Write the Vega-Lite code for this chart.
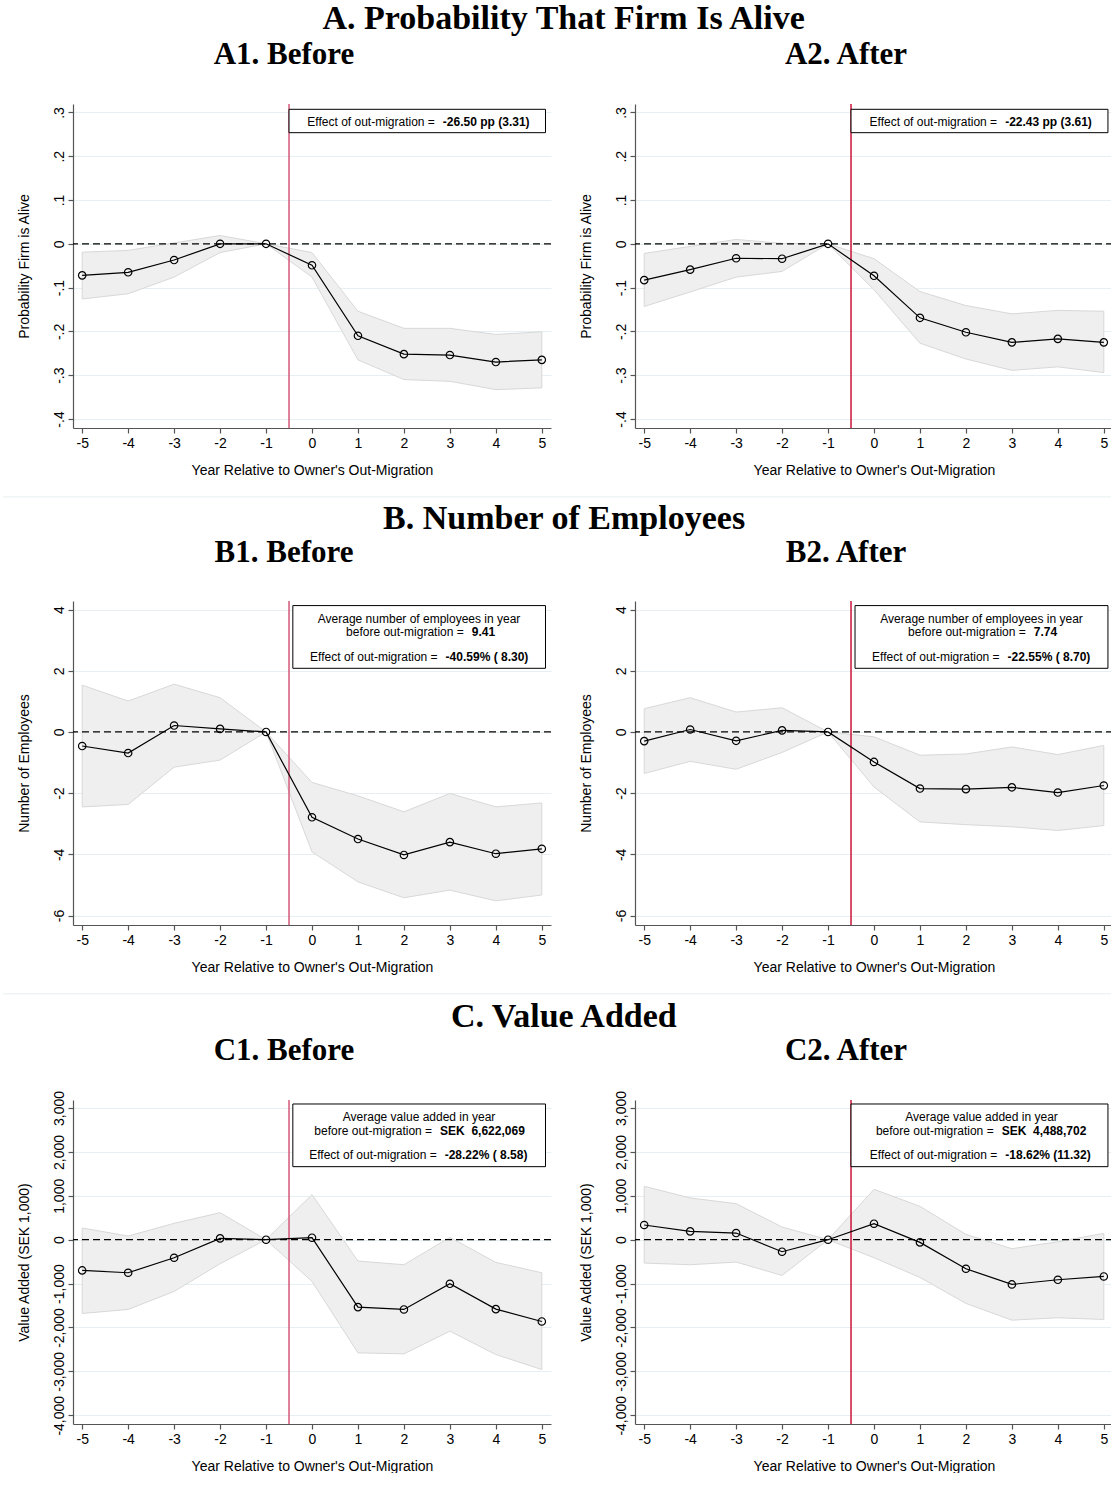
{
  "$schema": "https://vega.github.io/schema/vega-lite/v6.json",
  "background": "white",
  "padding": {"left": 2, "top": 2, "right": 0, "bottom": 0},
  "datasets": {
    "series": [
      {"p":"A1","t":-5,"b":-0.072,"lo":-0.126,"hi":-0.019},
      {"p":"A1","t":-4,"b":-0.065,"lo":-0.114,"hi":-0.015},
      {"p":"A1","t":-3,"b":-0.037,"lo":-0.076,"hi":0.002},
      {"p":"A1","t":-2,"b":0.0,"lo":-0.020,"hi":0.019},
      {"p":"A1","t":-1,"b":0,"lo":0,"hi":0},
      {"p":"A1","t":0,"b":-0.049,"lo":-0.076,"hi":-0.020},
      {"p":"A1","t":1,"b":-0.210,"lo":-0.265,"hi":-0.154},
      {"p":"A1","t":2,"b":-0.252,"lo":-0.310,"hi":-0.193},
      {"p":"A1","t":3,"b":-0.254,"lo":-0.314,"hi":-0.193},
      {"p":"A1","t":4,"b":-0.270,"lo":-0.333,"hi":-0.207},
      {"p":"A1","t":5,"b":-0.265,"lo":-0.329,"hi":-0.201},
      {"p":"A2","t":-5,"b":-0.083,"lo":-0.143,"hi":-0.022},
      {"p":"A2","t":-4,"b":-0.059,"lo":-0.110,"hi":-0.006},
      {"p":"A2","t":-3,"b":-0.033,"lo":-0.076,"hi":0.010},
      {"p":"A2","t":-2,"b":-0.034,"lo":-0.063,"hi":0.001},
      {"p":"A2","t":-1,"b":0,"lo":0,"hi":0},
      {"p":"A2","t":0,"b":-0.073,"lo":-0.105,"hi":-0.034},
      {"p":"A2","t":1,"b":-0.169,"lo":-0.227,"hi":-0.109},
      {"p":"A2","t":2,"b":-0.202,"lo":-0.263,"hi":-0.141},
      {"p":"A2","t":3,"b":-0.225,"lo":-0.289,"hi":-0.160},
      {"p":"A2","t":4,"b":-0.217,"lo":-0.281,"hi":-0.152},
      {"p":"A2","t":5,"b":-0.225,"lo":-0.294,"hi":-0.154},
      {"p":"B1","t":-5,"b":-0.46,"lo":-2.45,"hi":1.53},
      {"p":"B1","t":-4,"b":-0.69,"lo":-2.37,"hi":1.01},
      {"p":"B1","t":-3,"b":0.21,"lo":-1.15,"hi":1.56},
      {"p":"B1","t":-2,"b":0.10,"lo":-0.92,"hi":1.12},
      {"p":"B1","t":-1,"b":0,"lo":0,"hi":0},
      {"p":"B1","t":0,"b":-2.79,"lo":-3.92,"hi":-1.65},
      {"p":"B1","t":1,"b":-3.50,"lo":-4.90,"hi":-2.09},
      {"p":"B1","t":2,"b":-4.02,"lo":-5.42,"hi":-2.61},
      {"p":"B1","t":3,"b":-3.60,"lo":-5.17,"hi":-2.01},
      {"p":"B1","t":4,"b":-3.98,"lo":-5.52,"hi":-2.45},
      {"p":"B1","t":5,"b":-3.82,"lo":-5.33,"hi":-2.32},
      {"p":"B2","t":-5,"b":-0.30,"lo":-1.36,"hi":0.76},
      {"p":"B2","t":-4,"b":0.08,"lo":-0.96,"hi":1.12},
      {"p":"B2","t":-3,"b":-0.29,"lo":-1.22,"hi":0.65},
      {"p":"B2","t":-2,"b":0.05,"lo":-0.67,"hi":0.79},
      {"p":"B2","t":-1,"b":0,"lo":0,"hi":0},
      {"p":"B2","t":0,"b":-0.98,"lo":-1.80,"hi":-0.16},
      {"p":"B2","t":1,"b":-1.85,"lo":-2.94,"hi":-0.76},
      {"p":"B2","t":2,"b":-1.87,"lo":-3.03,"hi":-0.72},
      {"p":"B2","t":3,"b":-1.81,"lo":-3.10,"hi":-0.49},
      {"p":"B2","t":4,"b":-1.98,"lo":-3.22,"hi":-0.74},
      {"p":"B2","t":5,"b":-1.75,"lo":-3.06,"hi":-0.44},
      {"p":"C1","t":-5,"b":-700,"lo":-1681,"hi":266},
      {"p":"C1","t":-4,"b":-753,"lo":-1589,"hi":84},
      {"p":"C1","t":-3,"b":-411,"lo":-1179,"hi":373},
      {"p":"C1","t":-2,"b":30,"lo":-548,"hi":616},
      {"p":"C1","t":-1,"b":0,"lo":0,"hi":0},
      {"p":"C1","t":0,"b":46,"lo":-951,"hi":1027},
      {"p":"C1","t":1,"b":-1536,"lo":-2578,"hi":-487},
      {"p":"C1","t":2,"b":-1589,"lo":-2601,"hi":-570},
      {"p":"C1","t":3,"b":-1004,"lo":-2084,"hi":53},
      {"p":"C1","t":4,"b":-1582,"lo":-2616,"hi":-517},
      {"p":"C1","t":5,"b":-1863,"lo":-2958,"hi":-753},
      {"p":"C2","t":-5,"b":335,"lo":-532,"hi":1217},
      {"p":"C2","t":-4,"b":190,"lo":-570,"hi":951},
      {"p":"C2","t":-3,"b":152,"lo":-510,"hi":821},
      {"p":"C2","t":-2,"b":-274,"lo":-814,"hi":289},
      {"p":"C2","t":-1,"b":0,"lo":0,"hi":0},
      {"p":"C2","t":0,"b":365,"lo":-411,"hi":1148},
      {"p":"C2","t":1,"b":-61,"lo":-859,"hi":760},
      {"p":"C2","t":2,"b":-662,"lo":-1452,"hi":122},
      {"p":"C2","t":3,"b":-1019,"lo":-1833,"hi":-205},
      {"p":"C2","t":4,"b":-913,"lo":-1779,"hi":-46},
      {"p":"C2","t":5,"b":-837,"lo":-1817,"hi":144}
    ]
  },
  "bounds": "full",
  "spacing": 4,
  "vconcat": [
    {
      "title": {"text": "A. Probability That Firm Is Alive", "frame": "bounds", "anchor": "middle", "dx": 5.5, "offset": 3, "fontSize": 34},
      "bounds": "flush",
      "spacing": 84,
      "hconcat": [
        {
          "width": 478, "height": 324,
          "title": {"text": "A1. Before", "frame": "group", "anchor": "middle", "dx": -28, "offset": 32},
          "layer": [
            {"data": {"values": [{}]}, "mark": {"type": "rule", "color": "#e6eef0", "strokeWidth": 1}, "encoding": {"x": {"datum": -6.72, "type": "quantitative"}, "x2": {"datum": 17.39}, "y": {"datum": -0.578, "type": "quantitative"}}},
            {"data": {"name": "series"}, "transform": [{"filter": "datum.p == 'A1'"}], "mark": {"type": "area", "fill": "#efefef", "stroke": "#d8d8d8", "strokeWidth": 1},
             "encoding": {"x": {"field": "t", "type": "quantitative", "scale": {"domain": [-5.2, 5.2], "nice": false, "zero": false}, "axis": {"values": [-5,-4,-3,-2,-1,0,1,2,3,4,5], "labelExpr": "(datum.value < 0 ? '-' : '') + toString(abs(datum.value))"}, "title": "Year Relative to Owner's Out-Migration"},
                          "y": {"field": "hi", "type": "quantitative", "scale": {"domain": [-0.4206, 0.3193], "nice": false, "zero": false}, "axis": {"values": [-0.4,-0.3,-0.2,-0.1,0,0.1,0.2,0.3], "labelExpr": "datum.value == 0 ? '0' : (datum.value < 0 ? '-.' : '.') + toString(round(abs(datum.value) * 10))"}, "title": "Probability Firm is Alive"},
                          "y2": {"field": "lo"}}},
            {"data": {"values": [{}]}, "mark": {"type": "rule", "color": "#000", "strokeDash": [7, 4], "strokeWidth": 1.2}, "encoding": {"y": {"datum": 0, "type": "quantitative"}}},
            {"data": {"values": [{}]}, "mark": {"type": "rule", "color": "#d4587a", "strokeWidth": 1.5}, "encoding": {"x": {"datum": -0.5, "type": "quantitative"}}},
            {"data": {"name": "series"}, "transform": [{"filter": "datum.p == 'A1'"}], "mark": {"type": "line", "color": "#000", "strokeWidth": 1.2},
             "encoding": {"x": {"field": "t", "type": "quantitative", "title": "Year Relative to Owner's Out-Migration"}, "y": {"field": "b", "type": "quantitative", "title": "Probability Firm is Alive"}}},
            {"data": {"name": "series"}, "transform": [{"filter": "datum.p == 'A1'"}], "mark": {"type": "point", "shape": "circle", "filled": false, "stroke": "#000", "strokeWidth": 1.2, "size": 55, "opacity": 1},
             "encoding": {"x": {"field": "t", "type": "quantitative", "title": "Year Relative to Owner's Out-Migration"}, "y": {"field": "b", "type": "quantitative", "title": "Probability Firm is Alive"}}},
            {"data": {"values": [{}]}, "mark": {"type": "rect", "fill": "white", "stroke": "#000", "strokeWidth": 1}, "encoding": {"x": {"datum": -0.5, "type": "quantitative"}, "x2": {"datum": 5.08}, "y": {"datum": 0.3072, "type": "quantitative"}, "y2": {"datum": 0.2538}}},
            {"data": {"values": [{"s": "Effect of out-migration ="}]}, "mark": {"type": "text", "fontSize": 12, "align": "right", "baseline": "middle", "dx": -4}, "encoding": {"x": {"datum": 2.76, "type": "quantitative"}, "y": {"datum": 0.2782, "type": "quantitative"}, "text": {"field": "s"}}},
            {"data": {"values": [{"s": "-26.50 pp (3.31)"}]}, "mark": {"type": "text", "fontSize": 12, "fontWeight": "bold", "align": "left", "baseline": "middle", "dx": 4}, "encoding": {"x": {"datum": 2.76, "type": "quantitative"}, "y": {"datum": 0.2782, "type": "quantitative"}, "text": {"field": "s"}}}
          ]
        },
        {
          "width": 478, "height": 324,
          "title": {"text": "A2. After", "frame": "group", "anchor": "middle", "dx": -28, "offset": 32},
          "layer": [
            {"data": {"name": "series"}, "transform": [{"filter": "datum.p == 'A2'"}], "mark": {"type": "area", "fill": "#efefef", "stroke": "#d8d8d8", "strokeWidth": 1},
             "encoding": {"x": {"field": "t", "type": "quantitative", "scale": {"domain": [-5.2, 5.2], "nice": false, "zero": false}, "axis": {"values": [-5,-4,-3,-2,-1,0,1,2,3,4,5], "labelExpr": "(datum.value < 0 ? '-' : '') + toString(abs(datum.value))"}, "title": "Year Relative to Owner's Out-Migration"},
                          "y": {"field": "hi", "type": "quantitative", "scale": {"domain": [-0.4206, 0.3193], "nice": false, "zero": false}, "axis": {"values": [-0.4,-0.3,-0.2,-0.1,0,0.1,0.2,0.3], "labelExpr": "datum.value == 0 ? '0' : (datum.value < 0 ? '-.' : '.') + toString(round(abs(datum.value) * 10))"}, "title": "Probability Firm is Alive"},
                          "y2": {"field": "lo"}}},
            {"data": {"values": [{}]}, "mark": {"type": "rule", "color": "#000", "strokeDash": [7, 4], "strokeWidth": 1.2}, "encoding": {"y": {"datum": 0, "type": "quantitative"}}},
            {"data": {"values": [{}]}, "mark": {"type": "rule", "color": "#cc1439", "strokeWidth": 1.5}, "encoding": {"x": {"datum": -0.5, "type": "quantitative"}}},
            {"data": {"name": "series"}, "transform": [{"filter": "datum.p == 'A2'"}], "mark": {"type": "line", "color": "#000", "strokeWidth": 1.2},
             "encoding": {"x": {"field": "t", "type": "quantitative", "title": "Year Relative to Owner's Out-Migration"}, "y": {"field": "b", "type": "quantitative", "title": "Probability Firm is Alive"}}},
            {"data": {"name": "series"}, "transform": [{"filter": "datum.p == 'A2'"}], "mark": {"type": "point", "shape": "circle", "filled": false, "stroke": "#000", "strokeWidth": 1.2, "size": 55, "opacity": 1},
             "encoding": {"x": {"field": "t", "type": "quantitative", "title": "Year Relative to Owner's Out-Migration"}, "y": {"field": "b", "type": "quantitative", "title": "Probability Firm is Alive"}}},
            {"data": {"values": [{}]}, "mark": {"type": "rect", "fill": "white", "stroke": "#000", "strokeWidth": 1}, "encoding": {"x": {"datum": -0.5, "type": "quantitative"}, "x2": {"datum": 5.09}, "y": {"datum": 0.3072, "type": "quantitative"}, "y2": {"datum": 0.2538}}},
            {"data": {"values": [{"s": "Effect of out-migration ="}]}, "mark": {"type": "text", "fontSize": 12, "align": "right", "baseline": "middle", "dx": -4}, "encoding": {"x": {"datum": 2.766, "type": "quantitative"}, "y": {"datum": 0.2782, "type": "quantitative"}, "text": {"field": "s"}}},
            {"data": {"values": [{"s": "-22.43 pp (3.61)"}]}, "mark": {"type": "text", "fontSize": 12, "fontWeight": "bold", "align": "left", "baseline": "middle", "dx": 4}, "encoding": {"x": {"datum": 2.766, "type": "quantitative"}, "y": {"datum": 0.2782, "type": "quantitative"}, "text": {"field": "s"}}}
          ]
        }
      ]
    },
    {
      "title": {"text": "B. Number of Employees", "frame": "bounds", "anchor": "middle", "dx": 6, "offset": 1, "fontSize": 34},
      "bounds": "flush",
      "spacing": 84,
      "hconcat": [
        {
          "width": 478, "height": 324,
          "title": {"text": "B1. Before", "frame": "group", "anchor": "middle", "dx": -28, "offset": 31},
          "layer": [
            {"data": {"values": [{}]}, "mark": {"type": "rule", "color": "#e6eef0", "strokeWidth": 1}, "encoding": {"x": {"datum": -6.72, "type": "quantitative"}, "x2": {"datum": 17.39}, "y": {"datum": -8.56, "type": "quantitative"}}},
            {"data": {"name": "series"}, "transform": [{"filter": "datum.p == 'B1'"}], "mark": {"type": "area", "fill": "#efefef", "stroke": "#d8d8d8", "strokeWidth": 1},
             "encoding": {"x": {"field": "t", "type": "quantitative", "scale": {"domain": [-5.2, 5.2], "nice": false, "zero": false}, "axis": {"values": [-5,-4,-3,-2,-1,0,1,2,3,4,5], "labelExpr": "(datum.value < 0 ? '-' : '') + toString(abs(datum.value))"}, "title": "Year Relative to Owner's Out-Migration"},
                          "y": {"field": "hi", "type": "quantitative", "scale": {"domain": [-6.31, 4.28], "nice": false, "zero": false}, "axis": {"values": [-6,-4,-2,0,2,4], "labelExpr": "(datum.value < 0 ? '-' : '') + toString(abs(datum.value))"}, "title": "Number of Employees"},
                          "y2": {"field": "lo"}}},
            {"data": {"values": [{}]}, "mark": {"type": "rule", "color": "#000", "strokeDash": [7, 4], "strokeWidth": 1.2}, "encoding": {"y": {"datum": 0, "type": "quantitative"}}},
            {"data": {"values": [{}]}, "mark": {"type": "rule", "color": "#d4587a", "strokeWidth": 1.5}, "encoding": {"x": {"datum": -0.5, "type": "quantitative"}}},
            {"data": {"name": "series"}, "transform": [{"filter": "datum.p == 'B1'"}], "mark": {"type": "line", "color": "#000", "strokeWidth": 1.2},
             "encoding": {"x": {"field": "t", "type": "quantitative", "title": "Year Relative to Owner's Out-Migration"}, "y": {"field": "b", "type": "quantitative", "title": "Number of Employees"}}},
            {"data": {"name": "series"}, "transform": [{"filter": "datum.p == 'B1'"}], "mark": {"type": "point", "shape": "circle", "filled": false, "stroke": "#000", "strokeWidth": 1.2, "size": 55, "opacity": 1},
             "encoding": {"x": {"field": "t", "type": "quantitative", "title": "Year Relative to Owner's Out-Migration"}, "y": {"field": "b", "type": "quantitative", "title": "Number of Employees"}}},
            {"data": {"values": [{}]}, "mark": {"type": "rect", "fill": "white", "stroke": "#000", "strokeWidth": 1}, "encoding": {"x": {"datum": -0.417, "type": "quantitative"}, "x2": {"datum": 5.08}, "y": {"datum": 4.13, "type": "quantitative"}, "y2": {"datum": 2.08}}},
            {"data": {"values": [{"s": "Average number of employees in year"}]}, "mark": {"type": "text", "fontSize": 12, "align": "center", "baseline": "middle"}, "encoding": {"x": {"datum": 2.33, "type": "quantitative"}, "y": {"datum": 3.70, "type": "quantitative"}, "text": {"field": "s"}}},
            {"data": {"values": [{"s": "before out-migration ="}]}, "mark": {"type": "text", "fontSize": 12, "align": "right", "baseline": "middle", "dx": -4}, "encoding": {"x": {"datum": 3.39, "type": "quantitative"}, "y": {"datum": 3.28, "type": "quantitative"}, "text": {"field": "s"}}},
            {"data": {"values": [{"s": "9.41"}]}, "mark": {"type": "text", "fontSize": 12, "fontWeight": "bold", "align": "left", "baseline": "middle", "dx": 4}, "encoding": {"x": {"datum": 3.39, "type": "quantitative"}, "y": {"datum": 3.28, "type": "quantitative"}, "text": {"field": "s"}}},
            {"data": {"values": [{"s": "Effect of out-migration ="}]}, "mark": {"type": "text", "fontSize": 12, "align": "right", "baseline": "middle", "dx": -4}, "encoding": {"x": {"datum": 2.82, "type": "quantitative"}, "y": {"datum": 2.46, "type": "quantitative"}, "text": {"field": "s"}}},
            {"data": {"values": [{"s": "-40.59% ( 8.30)"}]}, "mark": {"type": "text", "fontSize": 12, "fontWeight": "bold", "align": "left", "baseline": "middle", "dx": 4}, "encoding": {"x": {"datum": 2.82, "type": "quantitative"}, "y": {"datum": 2.46, "type": "quantitative"}, "text": {"field": "s"}}}
          ]
        },
        {
          "width": 478, "height": 324,
          "title": {"text": "B2. After", "frame": "group", "anchor": "middle", "dx": -28, "offset": 31},
          "layer": [
            {"data": {"name": "series"}, "transform": [{"filter": "datum.p == 'B2'"}], "mark": {"type": "area", "fill": "#efefef", "stroke": "#d8d8d8", "strokeWidth": 1},
             "encoding": {"x": {"field": "t", "type": "quantitative", "scale": {"domain": [-5.2, 5.2], "nice": false, "zero": false}, "axis": {"values": [-5,-4,-3,-2,-1,0,1,2,3,4,5], "labelExpr": "(datum.value < 0 ? '-' : '') + toString(abs(datum.value))"}, "title": "Year Relative to Owner's Out-Migration"},
                          "y": {"field": "hi", "type": "quantitative", "scale": {"domain": [-6.31, 4.28], "nice": false, "zero": false}, "axis": {"values": [-6,-4,-2,0,2,4], "labelExpr": "(datum.value < 0 ? '-' : '') + toString(abs(datum.value))"}, "title": "Number of Employees"},
                          "y2": {"field": "lo"}}},
            {"data": {"values": [{}]}, "mark": {"type": "rule", "color": "#000", "strokeDash": [7, 4], "strokeWidth": 1.2}, "encoding": {"y": {"datum": 0, "type": "quantitative"}}},
            {"data": {"values": [{}]}, "mark": {"type": "rule", "color": "#cc1439", "strokeWidth": 1.5}, "encoding": {"x": {"datum": -0.5, "type": "quantitative"}}},
            {"data": {"name": "series"}, "transform": [{"filter": "datum.p == 'B2'"}], "mark": {"type": "line", "color": "#000", "strokeWidth": 1.2},
             "encoding": {"x": {"field": "t", "type": "quantitative", "title": "Year Relative to Owner's Out-Migration"}, "y": {"field": "b", "type": "quantitative", "title": "Number of Employees"}}},
            {"data": {"name": "series"}, "transform": [{"filter": "datum.p == 'B2'"}], "mark": {"type": "point", "shape": "circle", "filled": false, "stroke": "#000", "strokeWidth": 1.2, "size": 55, "opacity": 1},
             "encoding": {"x": {"field": "t", "type": "quantitative", "title": "Year Relative to Owner's Out-Migration"}, "y": {"field": "b", "type": "quantitative", "title": "Number of Employees"}}},
            {"data": {"values": [{}]}, "mark": {"type": "rect", "fill": "white", "stroke": "#000", "strokeWidth": 1}, "encoding": {"x": {"datum": -0.413, "type": "quantitative"}, "x2": {"datum": 5.09}, "y": {"datum": 4.13, "type": "quantitative"}, "y2": {"datum": 2.08}}},
            {"data": {"values": [{"s": "Average number of employees in year"}]}, "mark": {"type": "text", "fontSize": 12, "align": "center", "baseline": "middle"}, "encoding": {"x": {"datum": 2.34, "type": "quantitative"}, "y": {"datum": 3.70, "type": "quantitative"}, "text": {"field": "s"}}},
            {"data": {"values": [{"s": "before out-migration ="}]}, "mark": {"type": "text", "fontSize": 12, "align": "right", "baseline": "middle", "dx": -4}, "encoding": {"x": {"datum": 3.39, "type": "quantitative"}, "y": {"datum": 3.28, "type": "quantitative"}, "text": {"field": "s"}}},
            {"data": {"values": [{"s": "7.74"}]}, "mark": {"type": "text", "fontSize": 12, "fontWeight": "bold", "align": "left", "baseline": "middle", "dx": 4}, "encoding": {"x": {"datum": 3.39, "type": "quantitative"}, "y": {"datum": 3.28, "type": "quantitative"}, "text": {"field": "s"}}},
            {"data": {"values": [{"s": "Effect of out-migration ="}]}, "mark": {"type": "text", "fontSize": 12, "align": "right", "baseline": "middle", "dx": -4}, "encoding": {"x": {"datum": 2.82, "type": "quantitative"}, "y": {"datum": 2.46, "type": "quantitative"}, "text": {"field": "s"}}},
            {"data": {"values": [{"s": "-22.55% ( 8.70)"}]}, "mark": {"type": "text", "fontSize": 12, "fontWeight": "bold", "align": "left", "baseline": "middle", "dx": 4}, "encoding": {"x": {"datum": 2.82, "type": "quantitative"}, "y": {"datum": 2.46, "type": "quantitative"}, "text": {"field": "s"}}}
          ]
        }
      ]
    },
    {
      "title": {"text": "C. Value Added", "frame": "bounds", "anchor": "middle", "dx": -1.5, "offset": 1, "fontSize": 34},
      "bounds": "flush",
      "spacing": 84,
      "hconcat": [
        {
          "width": 478, "height": 324,
          "title": {"text": "C1. Before", "frame": "group", "anchor": "middle", "dx": -28, "offset": 24},
          "layer": [
            {"data": {"name": "series"}, "transform": [{"filter": "datum.p == 'C1'"}], "mark": {"type": "area", "fill": "#efefef", "stroke": "#d8d8d8", "strokeWidth": 1},
             "encoding": {"x": {"field": "t", "type": "quantitative", "scale": {"domain": [-5.2, 5.2], "nice": false, "zero": false}, "axis": {"values": [-5,-4,-3,-2,-1,0,1,2,3,4,5], "labelExpr": "(datum.value < 0 ? '-' : '') + toString(abs(datum.value))"}, "title": "Year Relative to Owner's Out-Migration"},
                          "y": {"field": "hi", "type": "quantitative", "scale": {"domain": [-4199, 3183], "nice": false, "zero": false}, "axis": {"values": [-4000,-3000,-2000,-1000,0,1000,2000,3000], "labelExpr": "(datum.value < 0 ? '-' : '') + format(abs(datum.value), ',')"}, "title": "Value Added (SEK 1,000)"},
                          "y2": {"field": "lo"}}},
            {"data": {"values": [{}]}, "mark": {"type": "rule", "color": "#000", "strokeDash": [7, 4], "strokeWidth": 1.2}, "encoding": {"y": {"datum": 0, "type": "quantitative"}}},
            {"data": {"values": [{}]}, "mark": {"type": "rule", "color": "#d4587a", "strokeWidth": 1.5}, "encoding": {"x": {"datum": -0.5, "type": "quantitative"}}},
            {"data": {"name": "series"}, "transform": [{"filter": "datum.p == 'C1'"}], "mark": {"type": "line", "color": "#000", "strokeWidth": 1.2},
             "encoding": {"x": {"field": "t", "type": "quantitative", "title": "Year Relative to Owner's Out-Migration"}, "y": {"field": "b", "type": "quantitative", "title": "Value Added (SEK 1,000)"}}},
            {"data": {"name": "series"}, "transform": [{"filter": "datum.p == 'C1'"}], "mark": {"type": "point", "shape": "circle", "filled": false, "stroke": "#000", "strokeWidth": 1.2, "size": 55, "opacity": 1},
             "encoding": {"x": {"field": "t", "type": "quantitative", "title": "Year Relative to Owner's Out-Migration"}, "y": {"field": "b", "type": "quantitative", "title": "Value Added (SEK 1,000)"}}},
            {"data": {"values": [{}]}, "mark": {"type": "rect", "fill": "white", "stroke": "#000", "strokeWidth": 1}, "encoding": {"x": {"datum": -0.417, "type": "quantitative"}, "x2": {"datum": 5.08}, "y": {"datum": 3092, "type": "quantitative"}, "y2": {"datum": 1664}}},
            {"data": {"values": [{"s": "Average value added in year"}]}, "mark": {"type": "text", "fontSize": 12, "align": "center", "baseline": "middle"}, "encoding": {"x": {"datum": 2.33, "type": "quantitative"}, "y": {"datum": 2789, "type": "quantitative"}, "text": {"field": "s"}}},
            {"data": {"values": [{"s": "before out-migration ="}]}, "mark": {"type": "text", "fontSize": 12, "align": "right", "baseline": "middle", "dx": -4}, "encoding": {"x": {"datum": 2.70, "type": "quantitative"}, "y": {"datum": 2484, "type": "quantitative"}, "text": {"field": "s"}}},
            {"data": {"values": [{"s": "SEK \u00a06,622,069"}]}, "mark": {"type": "text", "fontSize": 12, "fontWeight": "bold", "align": "left", "baseline": "middle", "dx": 4}, "encoding": {"x": {"datum": 2.70, "type": "quantitative"}, "y": {"datum": 2484, "type": "quantitative"}, "text": {"field": "s"}}},
            {"data": {"values": [{"s": "Effect of out-migration ="}]}, "mark": {"type": "text", "fontSize": 12, "align": "right", "baseline": "middle", "dx": -4}, "encoding": {"x": {"datum": 2.80, "type": "quantitative"}, "y": {"datum": 1930, "type": "quantitative"}, "text": {"field": "s"}}},
            {"data": {"values": [{"s": "-28.22% ( 8.58)"}]}, "mark": {"type": "text", "fontSize": 12, "fontWeight": "bold", "align": "left", "baseline": "middle", "dx": 4}, "encoding": {"x": {"datum": 2.80, "type": "quantitative"}, "y": {"datum": 1930, "type": "quantitative"}, "text": {"field": "s"}}}
          ]
        },
        {
          "width": 478, "height": 324,
          "title": {"text": "C2. After", "frame": "group", "anchor": "middle", "dx": -28, "offset": 24},
          "layer": [
            {"data": {"name": "series"}, "transform": [{"filter": "datum.p == 'C2'"}], "mark": {"type": "area", "fill": "#efefef", "stroke": "#d8d8d8", "strokeWidth": 1},
             "encoding": {"x": {"field": "t", "type": "quantitative", "scale": {"domain": [-5.2, 5.2], "nice": false, "zero": false}, "axis": {"values": [-5,-4,-3,-2,-1,0,1,2,3,4,5], "labelExpr": "(datum.value < 0 ? '-' : '') + toString(abs(datum.value))"}, "title": "Year Relative to Owner's Out-Migration"},
                          "y": {"field": "hi", "type": "quantitative", "scale": {"domain": [-4199, 3183], "nice": false, "zero": false}, "axis": {"values": [-4000,-3000,-2000,-1000,0,1000,2000,3000], "labelExpr": "(datum.value < 0 ? '-' : '') + format(abs(datum.value), ',')"}, "title": "Value Added (SEK 1,000)"},
                          "y2": {"field": "lo"}}},
            {"data": {"values": [{}]}, "mark": {"type": "rule", "color": "#000", "strokeDash": [7, 4], "strokeWidth": 1.2}, "encoding": {"y": {"datum": 0, "type": "quantitative"}}},
            {"data": {"values": [{}]}, "mark": {"type": "rule", "color": "#cc1439", "strokeWidth": 1.5}, "encoding": {"x": {"datum": -0.5, "type": "quantitative"}}},
            {"data": {"name": "series"}, "transform": [{"filter": "datum.p == 'C2'"}], "mark": {"type": "line", "color": "#000", "strokeWidth": 1.2},
             "encoding": {"x": {"field": "t", "type": "quantitative", "title": "Year Relative to Owner's Out-Migration"}, "y": {"field": "b", "type": "quantitative", "title": "Value Added (SEK 1,000)"}}},
            {"data": {"name": "series"}, "transform": [{"filter": "datum.p == 'C2'"}], "mark": {"type": "point", "shape": "circle", "filled": false, "stroke": "#000", "strokeWidth": 1.2, "size": 55, "opacity": 1},
             "encoding": {"x": {"field": "t", "type": "quantitative", "title": "Year Relative to Owner's Out-Migration"}, "y": {"field": "b", "type": "quantitative", "title": "Value Added (SEK 1,000)"}}},
            {"data": {"values": [{}]}, "mark": {"type": "rect", "fill": "white", "stroke": "#000", "strokeWidth": 1}, "encoding": {"x": {"datum": -0.5, "type": "quantitative"}, "x2": {"datum": 5.09}, "y": {"datum": 3092, "type": "quantitative"}, "y2": {"datum": 1664}}},
            {"data": {"values": [{"s": "Average value added in year"}]}, "mark": {"type": "text", "fontSize": 12, "align": "center", "baseline": "middle"}, "encoding": {"x": {"datum": 2.34, "type": "quantitative"}, "y": {"datum": 2789, "type": "quantitative"}, "text": {"field": "s"}}},
            {"data": {"values": [{"s": "before out-migration ="}]}, "mark": {"type": "text", "fontSize": 12, "align": "right", "baseline": "middle", "dx": -4}, "encoding": {"x": {"datum": 2.69, "type": "quantitative"}, "y": {"datum": 2484, "type": "quantitative"}, "text": {"field": "s"}}},
            {"data": {"values": [{"s": "SEK \u00a04,488,702"}]}, "mark": {"type": "text", "fontSize": 12, "fontWeight": "bold", "align": "left", "baseline": "middle", "dx": 4}, "encoding": {"x": {"datum": 2.69, "type": "quantitative"}, "y": {"datum": 2484, "type": "quantitative"}, "text": {"field": "s"}}},
            {"data": {"values": [{"s": "Effect of out-migration ="}]}, "mark": {"type": "text", "fontSize": 12, "align": "right", "baseline": "middle", "dx": -4}, "encoding": {"x": {"datum": 2.77, "type": "quantitative"}, "y": {"datum": 1930, "type": "quantitative"}, "text": {"field": "s"}}},
            {"data": {"values": [{"s": "-18.62% (11.32)"}]}, "mark": {"type": "text", "fontSize": 12, "fontWeight": "bold", "align": "left", "baseline": "middle", "dx": 4}, "encoding": {"x": {"datum": 2.77, "type": "quantitative"}, "y": {"datum": 1930, "type": "quantitative"}, "text": {"field": "s"}}}
          ]
        }
      ]
    }
  ],
  "config": {
    "font": "Liberation Sans",
    "view": {"stroke": null},
    "title": {"font": "Liberation Serif", "fontSize": 31, "fontWeight": "bold", "color": "#000"},
    "text": {"font": "Liberation Sans", "color": "#000"},
    "axis": {"domainColor": "#555", "domainWidth": 1.2, "tickColor": "#555", "tickWidth": 1.2, "tickSize": 5, "labelFont": "Liberation Sans", "labelFontSize": 14, "labelColor": "#000", "titleFont": "Liberation Sans", "titleFontSize": 14, "titleFontWeight": "normal", "titleColor": "#000", "labelOverlap": false, "labelFlush": false},
    "axisX": {"grid": false, "labelPadding": 3, "titlePadding": 13},
    "axisY": {"grid": true, "gridColor": "#e6eff1", "gridWidth": 1, "labelAngle": -90, "labelAlign": "center", "labelBaseline": "bottom", "labelPadding": 2, "titlePadding": 21}
  }
}
